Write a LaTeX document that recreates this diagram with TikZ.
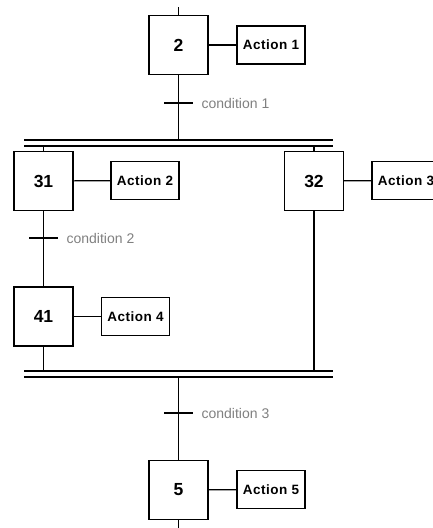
\documentclass[tikz,border=0pt]{standalone}
\usepackage{fontspec}
\setmainfont{Liberation Sans}
\newfontfamily\actfont[LetterSpace=4]{Liberation Sans}
\begin{document}
\begin{tikzpicture}[x=1pt, y=-1pt, line width=1.2pt,
        stepbox/.style={draw, minimum width=59pt, minimum height=59pt,
            font=\bfseries\fontsize{17.5}{20}\selectfont},
        actbox/.style={draw, minimum width=68pt, minimum height=38pt,
            font=\actfont\bfseries\fontsize{13.5}{16}\selectfont},
        cond/.style={anchor=west, inner sep=0pt, text=gray,
            font=\fontsize{14}{17}\selectfont},
        bar/.style={line width=1.8pt}]
        \useasboundingbox (0,0) rectangle (433,528);
        % steps and actions
        \node[stepbox] (s2) at (178.5,45) {2};
        \node[actbox] (a1) at (271,45) {Action 1};
        \node[stepbox] (s31) at (43.5,181) {31};
        \node[actbox] (a2) at (145,180.5) {Action 2};
        \node[stepbox] (s32) at (314,181) {32};
        \node[actbox] (a3) at (406,180.5) {Action 3};
        \node[stepbox] (s41) at (43.5,316.5) {41};
        \node[actbox] (a4) at (135.5,316.5) {Action 4};
        \node[stepbox] (s5) at (178.5,490) {5};
        \node[actbox] (a5) at (271,489.5) {Action 5};
        \draw (s2) -- (a1);
        \draw (s31) -- (a2);
        \draw (s32) -- (a3);
        \draw (s41) -- (a4);
        \draw (s5) -- (a5);
        % double bars
        \coordinate (up1) at (178.5,140);
        \coordinate (up2) at (178.5,146);
        \coordinate (lo1) at (178.5,371);
        \coordinate (lo2) at (178.5,377);
        \draw[bar] (24,140) -- (333,140);
        \draw[bar] (24,146) -- (333,146);
        \draw[bar] (24,371) -- (333,371);
        \draw[bar] (24,377) -- (333,377);
        % links
        \coordinate (in) at (178.5,7);
        \coordinate (out) at (178.5,528);
        \draw (in) -- (s2);
        \draw (s2) -- (up1);
        \draw (s31) -- (s31 |- up2);
        \draw (s32) -- (s32 |- up2);
        \draw (s31) -- (s41);
        \draw (s41) -- (s41 |- lo1);
        \draw (s32) -- (s32 |- lo1);
        \draw (lo2) -- (s5);
        \draw (s5) -- (out);
        % transitions
        \draw (164,103) -- (193,103);
        \node[cond] (c1) at (201,103) {condition 1};
        \draw (29,238) -- (58,238);
        \node[cond] (c2) at (66,238) {condition 2};
        \draw (164,413) -- (193,413);
        \node[cond] (c3) at (201,413) {condition 3};
\end{tikzpicture}
\end{document}
